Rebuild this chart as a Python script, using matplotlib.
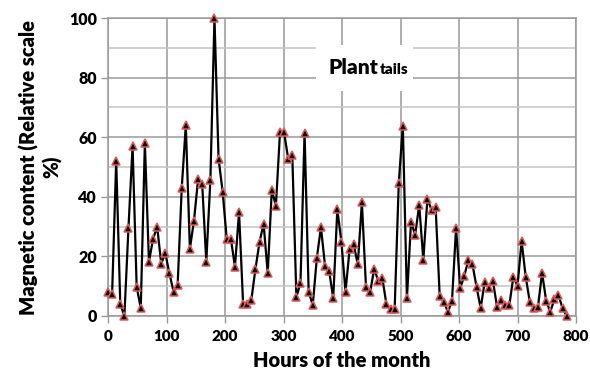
import numpy as np
import matplotlib
matplotlib.use("Agg")
import matplotlib.pyplot as plt
from matplotlib.patches import Rectangle
from matplotlib.ticker import MultipleLocator

# magnetic content readings, one every 7 hours
magnetic = [
    7.9, 7.3, 52, 3.9, 0, 29.6, 57, 9.8, 2.6, 58,
    18.2, 25.8, 30, 17.6, 21, 14.3, 8.2, 10.3, 42.8, 64,
    22.6, 32, 45.9, 44.3, 18.2, 45.6, 100, 52.8, 41.6, 25.7,
    26, 16.5, 34.8, 3.9, 3.9, 5.4, 15.7, 24.8, 31, 14.3,
    42.3, 37, 61.6, 61.6, 52.8, 54.1, 6.4, 11, 61.5, 8.2,
    3.6, 19.5, 29.8, 16.8, 15.1, 5.9, 35.8, 24.8, 8.2, 22.4,
    24, 17.3, 38.1, 9.8, 8, 15.7, 11.9, 12.6, 3.9, 2.2,
    2.3, 44.5, 63.9, 5.9, 31.7, 27.2, 37.2, 18.8, 39.4, 35.6,
    36.7, 6.7, 4.8, 1.4, 5, 29.6, 9.3, 13.4, 18.8, 17.3,
    9.8, 2.6, 11.5, 9.5, 11.7, 3.1, 5.4, 3.6, 3.6, 13.2,
    10, 25.2, 13.2, 4.8, 2.6, 3.1, 14.5, 5.1, 1.4, 5.6,
    7, 2.6, 0,
]
hours = np.arange(len(magnetic)) * 7

xticks = [0, 100, 200, 300, 400, 500, 600, 700, 800]
yticks = [0, 20, 40, 60, 80, 100]

plt.rcParams['font.family'] = ['Lato', 'DejaVu Sans']
plt.rcParams['font.weight'] = 'heavy'

fig = plt.figure(figsize=(5.9, 3.74), dpi=100)
ax = fig.add_axes([108 / 590, 1 - 316 / 374, 468 / 590, 298 / 374])

ax.plot(hours, magnetic, color='black', lw=1.6, marker='^', ms=6,
        markerfacecolor='black', markeredgecolor='#e05a5a', markeredgewidth=1.1,
        zorder=3, clip_on=False)

ax.set_xlim(0, 800)
ax.set_ylim(0, 100)
ax.set_xticks(xticks)
ax.set_yticks(yticks)
ax.yaxis.set_minor_locator(MultipleLocator(10))
ax.tick_params(axis='both', which='major', labelsize=11, length=5, width=1,
               color='#999999')
ax.tick_params(axis='x', which='major', pad=5)
ax.tick_params(axis='y', which='major', pad=3, labelsize=11.5)
ax.tick_params(axis='y', which='minor', length=0)
for lbl in ax.get_xticklabels() + ax.get_yticklabels():
    lbl.set_fontweight('heavy')

ax.grid(True, axis='x', color='#a8a8a8', lw=1.3, zorder=0)
ax.grid(True, axis='y', which='major', color='#9a9a9a', lw=1.1, zorder=0)
ax.grid(True, axis='y', which='minor', color='#c4c4c4', lw=1.1, zorder=0)
ax.set_axisbelow(True)
for sp in ax.spines.values():
    sp.set_color('#999999')
    sp.set_linewidth(1.1)

ax.set_xlabel('Hours of the month', fontsize=14.5, fontweight='heavy', labelpad=6)
ax.set_ylabel('Magnetic content (Relative scale\n%)', fontsize=14.5,
              fontweight='heavy', labelpad=5, linespacing=1.2)

# label box inside the plot
fig.patches.append(Rectangle((316 / 590, 1 - 91 / 374), 97 / 590, 46 / 374,
                             transform=fig.transFigure, facecolor='white',
                             edgecolor='none', zorder=2))
fig.text(329 / 590, 1 - 74 / 374, 'Plant', fontsize=15, fontweight='heavy',
         ha='left', va='baseline', zorder=4)
fig.text(380 / 590, 1 - 74 / 374, 'tails', fontsize=11, fontweight='heavy',
         ha='left', va='baseline', zorder=4)

fig.savefig('out.png', dpi=100)
